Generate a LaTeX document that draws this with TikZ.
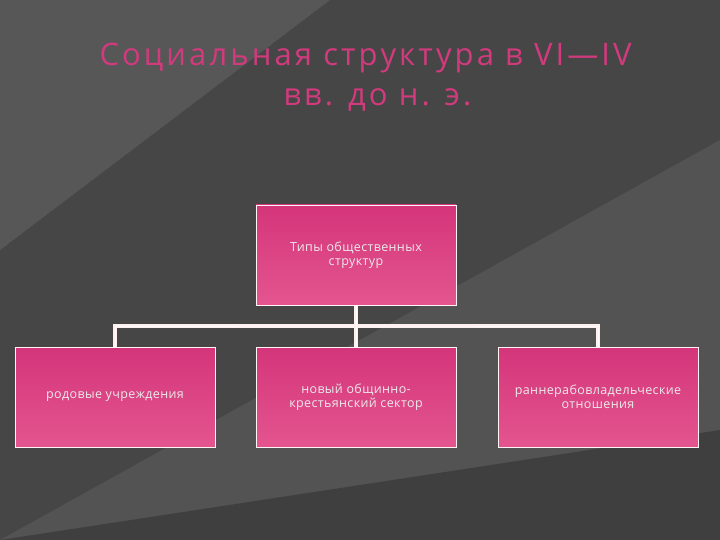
\documentclass[tikz,border=0pt]{standalone}
\usepackage{fontspec}
\setmainfont{Open Sans}
\begin{document}
\begin{tikzpicture}[x=1pt,y=-1pt,
  box/.style={draw=white!85!pink,line width=0.6pt,top color=pinkA,bottom color=pinkB,minimum width=200pt,minimum height=100pt,align=center,font=\fontsize{12.5}{14}\selectfont\addfontfeature{LetterSpace=3},text=white!92!black},
  conn/.style={draw=white!75!pink,line width=2pt,double=white!95!pink,double distance=0.6pt},
  title/.style={anchor=west,text=titlec,font=\fontsize{31}{34}\selectfont\addfontfeature{LetterSpace=10}}]
\definecolor{pinkA}{HTML}{D4357A}
\definecolor{pinkB}{HTML}{E4558F}
\definecolor{titlec}{HTML}{D23A7E}
\useasboundingbox (0,0) rectangle (720,540);
\fill[gray!55!black] (0,0) rectangle (720,540);
\fill[gray!72!black,opacity=0.8] (0,0) -- (330,0) -- (0,250) -- cycle;
\fill[gray!75!black,opacity=0.5] (0,540) -- (720,140) -- (720,540) -- cycle;
\fill[gray!35!black,opacity=0.5] (0,540) -- (720,430) -- (720,540) -- cycle;
\node[title] (t1) at (96,58) {Социальная структура в VI—IV};
\node[title] (t2) at (280,100) {вв. до н. э.};
\node[box] (top) at (356,255) {Типы общественных\\структур};
\node[box] (l) at (115,397) {родовые учреждения};
\node[box] (m) at (356,397) {новый общинно-\\крестьянский сектор};
\node[box] (r) at (598,397) {раннерабовладельческие\\отношения};
\coordinate (j) at (356,326);
\draw[conn] (top.south) -- (j);
\draw[conn] (l.north) |- (j) -| (r.north);
\draw[conn] (j) -- (m.north);
\end{tikzpicture}
\end{document}
